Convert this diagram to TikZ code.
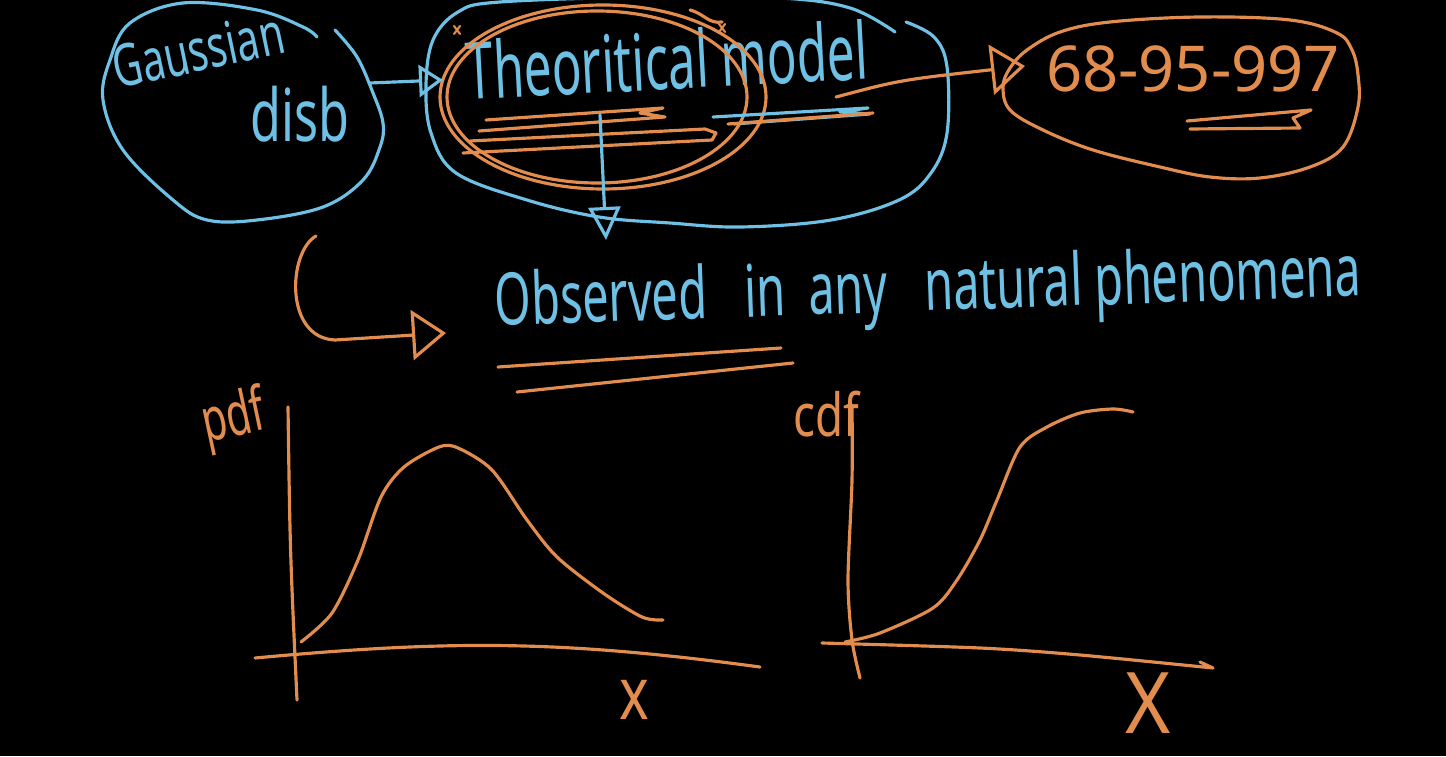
\documentclass[tikz,border=0pt]{standalone}
\usepackage{fontspec}
\usepackage{graphicx}
\setmainfont{Noto Sans}
\usetikzlibrary{arrows.meta}
\definecolor{chalkblue}{RGB}{110,192,228}
\definecolor{chalkorange}{RGB}{226,140,78}
\newcommand{\hw}[3]{\scalebox{1}[#2]{\fontsize{#1}{#1}\selectfont #3}}

\begin{document}
\begin{tikzpicture}[
  x=0.1mm, y=-0.1mm,
  bl/.style={draw=chalkblue, line width=0.9pt, line cap=round, line join=round},
  og/.style={draw=chalkorange, line width=0.9pt, line cap=round, line join=round},
  btxt/.style={text=chalkblue, inner sep=0pt},
  otxt/.style={text=chalkorange, inner sep=0pt},
  tipS/.style={-{Triangle[open, length=2.4mm, width=3.2mm]}},
  tipM/.style={-{Triangle[open, length=3.3mm, width=3.2mm]}},
  tipL/.style={-{Triangle[open, length=3.4mm, width=5mm]}},
]

% ---- board ------------------------------------------------------------------
\fill[black] (0,0) rectangle (1446,756);
\useasboundingbox (0,0) rectangle (1446,756);

% ---- Stage 1: Gaussian blob --------------------------------------------------
\node[btxt, rotate=12] (gauss) at (198,50) {\hw{11.5}{1.45}{Gaussian}};
\node[btxt] (disb) at (300,114) {\hw{14.3}{1.45}{disb}};
\draw[bl] plot[smooth, tension=0.6] coordinates {(335,30) (357,57) (373,93)
  (383,123) (380,147) (363,180) (323,207) (257,220) (207,220) (173,200)
  (123,150) (103,100) (110,60) (130,23) (183,3) (257,10) (303,27) (317,37)};

% ---- Stage 2: Theoritical model ----------------------------------------------
\node[btxt, rotate=3] (theory) at (667,60) {\hw{14}{1.6}{Theoritical model}};
\draw[bl] plot[smooth, tension=0.6] coordinates {(906,22) (934,37) (947,67)
  (947,133) (931,173) (899,200) (831,220) (741,227) (670,223) (599,217)
  (527,200) (456,173) (431,133) (426,85) (433,40) (458,12) (500,2) (650,-3)
  (780,-2) (850,8) (895,32)};
\draw[og] (597,97) ellipse [x radius=15mm, y radius=8.6mm];
\draw[og] (603,97) ellipse [x radius=16.3mm, y radius=9.2mm];
\draw[og] (690,10) .. controls (705,14) and (708,24) .. (722,22);
\draw[og, line width=0.6pt] (454,26) -- (460,34) (460,26) -- (454,34);
\draw[og, line width=0.6pt] (719,24) -- (725,32) (725,24) -- (719,32);

% underlines (orange + blue)
\draw[og] (486,120) -- (663,108) -- (640,113) -- (665,117) -- (479,131);
\draw[og] (470,141) -- (705,129) -- (716,133) -- (712,140) -- (463,153);
\draw[bl] (713,117) -- (868,108) -- (840,112) -- (870,114) -- (734,124);
\draw[og] (728,124) -- (873,113);

% ---- Stage 3: 68-95-997 ------------------------------------------------------
\node[otxt] (rule) at (1193,69) {\hw{18}{1}{68-95-997}};
\draw[og] plot[smooth cycle, tension=0.6] coordinates {(1027,50) (1060,32)
  (1110,22) (1200,17) (1290,20) (1337,33) (1352,50) (1358,75) (1358,107)
  (1343,147) (1310,167) (1260,178) (1210,177) (1160,167) (1093,150)
  (1043,130) (1010,110) (1003,87) (1010,68)};
\draw[og] (1187,121) -- (1311,110) -- (1293,118) -- (1300,128) -- (1190,129);

% ---- connectors ---------------------------------------------------------------
\coordinate (gaussE) at (370,83);
\coordinate (theoryW) at (443,80);
\coordinate (modelE) at (836,97);
\coordinate (ruleW) at (1025,66);
\coordinate (theoryS) at (600,115);
\coordinate (obsN) at (606,240);
\coordinate (hookT) at (316,236);
\coordinate (hookE) at (446,333);

\draw[bl, tipS] (gaussE) -- (theoryW);
\draw[og, tipL] (modelE) .. controls (900,80) .. (ruleW);
\draw[bl, tipM] (theoryS) -- (obsN);
\draw[og, tipL] (hookT) .. controls (288,252) and (284,338) .. (335,340)
  -- (hookE);

% ---- Stage 4: observed -------------------------------------------------------
\node[btxt, rotate=2] (obs) at (928,292)
  {\hw{13.3}{1.55}{Observed\hspace{0.8em}in\hspace{0.5em}any\hspace{0.8em}natural phenomena}};
\draw[og] (498,367) -- (781,348);
\draw[og] (517,392) -- (793,363);

% ---- Stage 5: pdf plot -------------------------------------------------------
\node[otxt, rotate=12] (pdf) at (234,420) {\hw{11.5}{1.5}{pdf}};
\draw[og] (288,407) .. controls (290,550) .. (297,700);
\draw[og] (255,658) .. controls (450,640) and (560,640) .. (760,667);
\draw[og] plot[smooth] coordinates {(301,642) (332,613) (358,560) (381,497)
  (404,467) (439,447) (458,448) (492,470) (527,520) (557,557) (603,593)
  (642,617) (663,620)};
\node[otxt] (xpdf) at (634,700) {\hw{16}{1.3}{x}};

% ---- Stage 6: cdf plot -------------------------------------------------------
\node[otxt] (cdf) at (826,414) {\hw{13}{1.3}{cdf}};
\draw[og] plot[smooth] coordinates {(852,405) (852,480) (848,580) (852,640)
  (860,678)};
\draw[og] plot[smooth] coordinates {(822,643) (980,648) (1080,655) (1213,668)}
  -- (1200,662);
\draw[og] plot[smooth] coordinates {(845,642) (880,633) (933,608) (957,580)
  (980,540) (997,500) (1020,447) (1047,427) (1080,413) (1113,409) (1133,412)};
\node[otxt] (xcdf) at (1148,703) {\hw{22}{1.1}{X}};

\end{tikzpicture}
\end{document}
